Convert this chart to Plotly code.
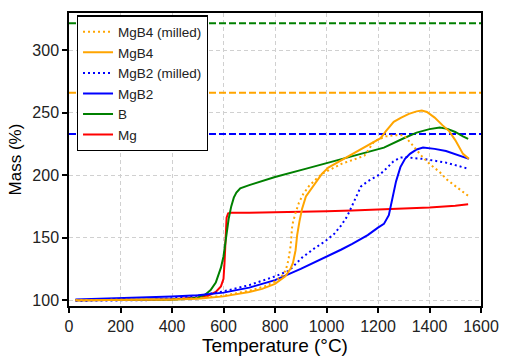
import plotly.graph_objects as go

# ---------------- data ----------------
mg_T = [25, 100, 200, 300, 400, 450, 500, 540, 570, 590, 600, 604, 608, 612, 618, 630, 700, 800, 900, 1000, 1100, 1200, 1300, 1400, 1500, 1550]
mg_M = [100, 100, 100, 100.3, 100.8, 101.3, 102.2, 103.5, 106.5, 111, 117, 130, 150, 166, 169.5, 170, 170, 170.2, 170.6, 171.2, 171.8, 172.4, 173.1, 174.2, 175.6, 176.7]

b_T = [25, 200, 300, 400, 450, 500, 530, 550, 570, 590, 600, 610, 620, 630, 640, 650, 665, 700, 800, 918, 1000, 1100, 1223, 1300, 1350, 1400, 1440, 1470, 1500, 1530, 1550]
b_M = [100, 100, 100.2, 100.6, 101, 102, 104.5, 108, 114, 126, 135, 150, 165, 175, 182, 186, 189.5, 192, 198.5, 205, 209.6, 215.2, 222, 229.5, 234, 236.8, 238, 237, 234.5, 231, 229]

mgb2_T = [25, 100, 200, 300, 400, 500, 600, 700, 800, 900, 931, 1000, 1058, 1100, 1160, 1200, 1223, 1242, 1255, 1270, 1287, 1305, 1324, 1350, 1375, 1420, 1464, 1500, 1553]
mgb2_M = [100.5, 101, 101.5, 102, 103, 104, 106, 110, 116, 125, 128, 134.5, 140.5, 145, 152, 158, 161, 168, 180, 195, 206.4, 213, 217, 220.5, 222, 221, 219.3, 217, 213]

mgb2m_T = [25, 100, 200, 280, 300, 400, 500, 600, 700, 800, 854, 905, 950, 994, 1030, 1058, 1080, 1096, 1115, 1134, 1160, 1185, 1210, 1236, 1260, 1287, 1312, 1340, 1375, 1420, 1464, 1500, 1553]
mgb2m_M = [99.5, 99.5, 99.5, 99.7, 100, 101.5, 103.5, 107, 112, 119, 123.5, 134, 141, 147, 153, 160, 167, 174, 183, 191, 195, 198, 201, 206, 211, 214, 214.5, 213.5, 213, 211.5, 210, 208, 205]

mgb4_T = [25, 200, 400, 500, 600, 700, 750, 800, 840, 860, 870, 880, 886, 895, 905, 920, 956, 982, 1007, 1050, 1100, 1134, 1185, 1210, 1230, 1261, 1290, 1320, 1350, 1370, 1390, 1420, 1450, 1477, 1500, 1515, 1530, 1553]
mgb4_M = [100, 100, 100.5, 101.2, 103, 106.5, 109, 113, 119, 125, 130, 140, 152, 163, 173, 183, 194, 201, 206, 211, 216.5, 221, 227, 229.6, 235, 242.6, 246, 249, 251, 251.6, 250.5, 246, 240, 235, 228, 222, 217, 213]

mgb4m_T = [25, 200, 400, 500, 600, 700, 760, 800, 830, 842, 852, 861, 867, 880, 893, 910, 931, 955, 982, 1020, 1058, 1100, 1147, 1185, 1230, 1270, 1300, 1330, 1375, 1400, 1439, 1470, 1502, 1530, 1553]
mgb4m_M = [100, 100, 100.6, 101.5, 103.5, 107.5, 111, 115, 120, 124, 132, 144, 160, 170, 178, 185, 191, 196, 201, 205, 209, 212, 215.5, 227, 231, 232, 232, 225, 214, 209, 202.6, 196, 191, 186.5, 183]

# theoretical full-oxidation levels (B, MgB4, MgB2)
ref_levels = [321.5, 266.0, 233.0]
ref_colors = ["#008000", "#FFA500", "#0000FF"]
ref_span = [0, 1600]

x_ticks = [0, 200, 400, 600, 800, 1000, 1200, 1400, 1600]
y_ticks = [100, 150, 200, 250, 300]

# ---------------- figure ----------------
fig = go.Figure()

for lvl, col in zip(ref_levels, ref_colors):
    fig.add_trace(go.Scatter(x=ref_span, y=[lvl, lvl], mode="lines", showlegend=False,
                             hoverinfo="skip",
                             line=dict(color=col, width=2, dash="7px,3px")))

series = [
    ("Mg", mg_T, mg_M, "#FF0000", "solid"),
    ("B", b_T, b_M, "#008000", "solid"),
    ("MgB2", mgb2_T, mgb2_M, "#0000FF", "solid"),
    ("MgB2 (milled)", mgb2m_T, mgb2m_M, "#0000FF", "2px,3px"),
    ("MgB4", mgb4_T, mgb4_M, "#FFA500", "solid"),
    ("MgB4 (milled)", mgb4m_T, mgb4m_M, "#FFA500", "2px,3px"),
]
for name, t, m, col, dash in series:
    fig.add_trace(go.Scatter(x=t, y=m, mode="lines", name=name,
                             line=dict(color=col, width=2, dash=dash)))

font_family = "Arial, Liberation Sans, sans-serif"
fig.update_layout(
    width=510, height=363,
    margin=dict(l=69, r=21, t=11, b=50),
    paper_bgcolor="white", plot_bgcolor="white",
    font=dict(family=font_family, color="black", size=16),
    legend=dict(x=0.019, y=0.992, xanchor="left", yanchor="top",
                traceorder="reversed", bgcolor="white",
                bordercolor="black", borderwidth=1.2,
                font=dict(size=13.5, family=font_family, color="#222222")),
)
axis_common = dict(showline=True, linecolor="black", linewidth=1.5, mirror=True,
                   ticks="outside", ticklen=5, tickwidth=1.5, tickcolor="black",
                   showgrid=True, gridcolor="#d0d0d0", gridwidth=1, griddash="4px,3px",
                   zeroline=False, tickfont=dict(size=16, family=font_family, color="#222222"))
fig.update_xaxes(range=[0, 1600], tickvals=x_ticks,
                 title=dict(text="Temperature (°C)", font=dict(size=19), standoff=4),
                 **axis_common)
fig.update_yaxes(range=[95.3, 329.7], tickvals=y_ticks,
                 title=dict(text="Mass (%)", font=dict(size=17), standoff=6),
                 **axis_common)

fig.write_html("out.html")
